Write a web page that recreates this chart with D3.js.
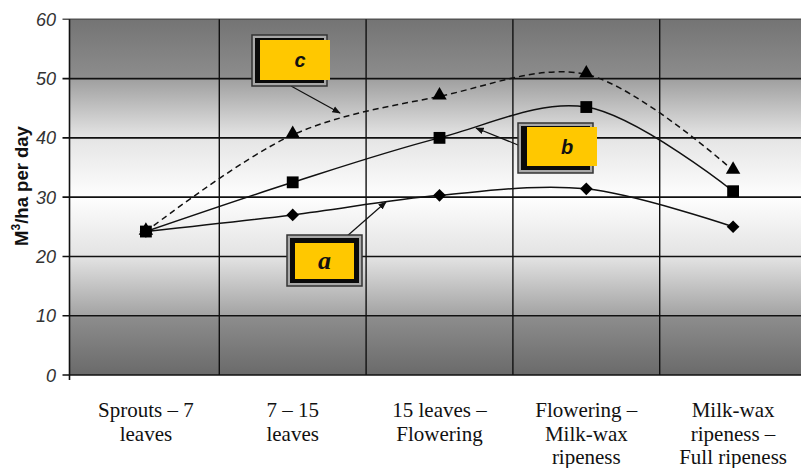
<!DOCTYPE html>
<html><head><meta charset="utf-8">
<script src="https://cdn.jsdelivr.net/npm/d3@7"></script>
<style>body{margin:0;background:#fff}svg{display:block}</style>
</head><body><svg id="c" width="801" height="468"></svg>
<script>
const categories = [
  ["Sprouts – 7","leaves"],
  ["7 – 15","leaves"],
  ["15 leaves –","Flowering"],
  ["Flowering –","Milk-wax","ripeness"],
  ["Milk-wax","ripeness –","Full ripeness"]
];
const catKeys = categories.map(d => d.join(" "));
const seriesA = [24.2, 27.0, 30.3, 31.4, 25.0];
const seriesB = [24.2, 32.5, 40.0, 45.2, 31.0];
const seriesC = [24.2, 40.5, 47.0, 50.7, 34.5];
const yTicks = [0, 10, 20, 30, 40, 50, 60];
const yTitleMain = "M", yTitleSup = "3", yTitleRest = "/ha per day";
const seriesLabels = ["a", "b", "c"];

const svg = d3.select("#c");
const W = 801, H = 468;
const pLeft = 69.5, pTop = 19.3, pBottom = 375;
const x = d3.scaleBand().domain(catKeys).range([72.5, 806.5]).paddingInner(0).paddingOuter(0);
const y = d3.scaleLinear().domain([0, 60]).range([pBottom, pTop]);
const cx = (i) => x(catKeys[i]) + x.bandwidth() / 2;

// background gradient
const defs = svg.append("defs");
const g = defs.append("linearGradient").attr("id","bg").attr("x1",0).attr("y1",0).attr("x2",0).attr("y2",1);
[[0,"#747474"],[0.16,"#8c8c8c"],[0.17,"#a0a0a0"],[0.33,"#e4e4e4"],[0.5,"#fefefe"],[0.67,"#e2e2e2"],[0.83,"#a4a4a4"],[0.84,"#8c8c8c"],[1,"#6a6a6a"]]
  .forEach(([o,c]) => g.append("stop").attr("offset",o).attr("stop-color",c));
svg.append("rect").attr("x",pLeft).attr("y",pTop).attr("width",W-pLeft).attr("height",pBottom-pTop).attr("fill","url(#bg)");

// horizontal grid
svg.append("g").selectAll("line").data(yTicks).join("line")
  .attr("x1",pLeft-7).attr("x2",W).attr("y1",d=>y(d)).attr("y2",d=>y(d))
  .attr("stroke",d=>d===60?"#555":"#111").attr("stroke-width",1.6);
// vertical grid
svg.append("g").selectAll("line").data(catKeys.slice(1)).join("line")
  .attr("x1",d=>x(d)).attr("x2",d=>x(d)).attr("y1",pTop).attr("y2",pBottom)
  .attr("stroke","#111").attr("stroke-width",1.4);
// y axis line
svg.append("line").attr("x1",pLeft).attr("x2",pLeft).attr("y1",pTop).attr("y2",pBottom+5).attr("stroke","#111").attr("stroke-width",1.6);

// y tick labels
svg.append("g").selectAll("text").data(yTicks).join("text")
  .attr("x",56).attr("y",d=>y(d)+6.5).attr("text-anchor","end")
  .attr("font-family","'Liberation Sans', Arial, sans-serif").attr("font-style","italic")
  .attr("font-size",18).attr("fill","#333").text(d=>d);

// y title
const yt = svg.append("text").attr("transform","translate(28,186) rotate(-90)")
  .attr("text-anchor","middle").attr("font-family","'Liberation Sans', Arial, sans-serif")
  .attr("font-weight","bold").attr("font-size",18.5).attr("fill","#111");
yt.append("tspan").text(yTitleMain);
yt.append("tspan").attr("font-size",12).attr("dy",-8).text(yTitleSup);
yt.append("tspan").attr("dy",8).text(yTitleRest);

// x labels
const xl = svg.append("g").selectAll("text").data(categories).join("text")
  .attr("text-anchor","middle").attr("font-family","'Liberation Serif', 'Times New Roman', serif")
  .attr("font-size",21).attr("fill","#111");
xl.each(function(lines,i){
  d3.select(this).selectAll("tspan").data(lines).join("tspan")
    .attr("x",cx(i)).attr("y",(d,j)=>417+j*23.5).text(d=>d);
});

// lines
const line = d3.line().x((d,i)=>cx(i)).y(d=>y(d)).curve(d3.curveCatmullRom.alpha(0.5));
const series = [
  {vals: seriesA, dash: null, sym: "diamond"},
  {vals: seriesB, dash: null, sym: "square"},
  {vals: seriesC, dash: "6,4", sym: "triangle"}
];
series.forEach(s => {
  svg.append("path").datum(s.vals).attr("d",line).attr("fill","none")
    .attr("stroke","#111").attr("stroke-width",1.5).attr("stroke-dasharray",s.dash);
});
series.forEach(s => {
  const sym = s.sym==="triangle" ? d3.symbol(d3.symbolTriangle,90)
    : s.sym==="square" ? d3.symbol(d3.symbolSquare,140) : d3.symbol(d3.symbolSquare,80);
  svg.append("g").selectAll("path").data(s.vals).join("path")
    .attr("d",sym)
    .attr("transform",(d,i)=>`translate(${cx(i)},${y(d)+(s.sym==="triangle"?-1:0)})${s.sym==="diamond"?" rotate(45)":""}`)
    .attr("fill","#000");
});

// annotations (box layout + arrows)
defs.append("marker").attr("id","ah").attr("viewBox","0 0 10 10").attr("refX",9).attr("refY",5)
  .attr("markerWidth",7).attr("markerHeight",7).attr("orient","auto")
  .append("path").attr("d","M0,1 L10,5 L0,9 Z").attr("fill","#111");

const boxes = [
  {lab: seriesLabels[2], ox:252, oy:35, ow:75, oh:51, yx:260, yy:40, yw:70, yh:40, serif:false, tail:[291,86], tip:[340,113]},
  {lab: seriesLabels[1], ox:518, oy:123, ow:75, oh:50, yx:527, yy:127, yw:70, yh:39, serif:false, tail:[518,145], tip:[476,128]},
  {lab: seriesLabels[0], ox:287, oy:235, ow:75, oh:51, yx:295, yy:243, yw:59, yh:36, serif:true, tail:[346,237], tip:[386,202]}
];
boxes.forEach(b => {
  svg.append("line").attr("x1",b.tail[0]).attr("y1",b.tail[1]).attr("x2",b.tip[0]).attr("y2",b.tip[1])
    .attr("stroke","#111").attr("stroke-width",1.2).attr("marker-end","url(#ah)");
  svg.append("rect").attr("x",b.ox).attr("y",b.oy).attr("width",b.ow).attr("height",b.oh)
    .attr("fill","#a8a8a8").attr("stroke","#333").attr("stroke-width",1.5);
  svg.append("rect").attr("x",b.ox+3).attr("y",b.oy+3).attr("width",b.ow-6).attr("height",b.oh-6)
    .attr("fill","#0a0a0a");
  svg.append("rect").attr("x",b.yx).attr("y",b.yy).attr("width",b.yw).attr("height",b.yh)
    .attr("fill","#ffc800");
  svg.append("text").attr("x",b.yx+b.yw/2+(b.serif?0:5)).attr("y",b.yy+b.yh/2+(b.serif?8:7))
    .attr("text-anchor","middle")
    .attr("font-family",b.serif?"'Liberation Serif', 'Times New Roman', serif":"'Liberation Sans', Arial, sans-serif")
    .attr("font-style","italic").attr("font-weight","bold").attr("font-size",b.serif?26:20)
    .attr("fill","#111").text(b.lab);
});
</script></body></html>
